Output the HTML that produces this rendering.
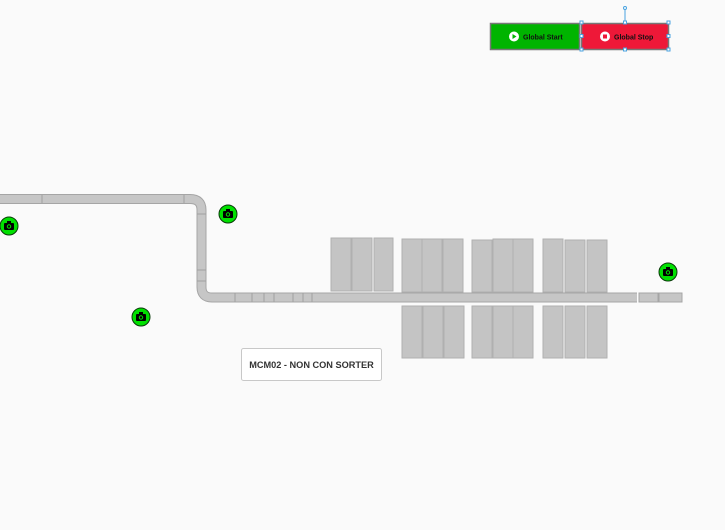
<!DOCTYPE html>
<html><head><style>
html,body{margin:0;padding:0;background:#fafafa;width:725px;height:530px;overflow:hidden;font-family:"Liberation Sans",sans-serif}
</style></head><body>
<svg width="725" height="530" xmlns="http://www.w3.org/2000/svg" style="position:absolute;left:0;top:0">
<rect width="725" height="530" fill="#fafafa"/>
<path d="M0 199 H190 Q201.5 199 201.5 210 V287 Q201.5 297.5 212 297.5 H637" fill="none" stroke="#a5a5a5" stroke-width="10"/>
<path d="M0 199 H190 Q201.5 199 201.5 210 V287 Q201.5 297.5 212 297.5 H637" fill="none" stroke="#c6c6c6" stroke-width="8"/>
<g stroke="#a0a0a0" stroke-width="1">
<line x1="42" y1="195" x2="42" y2="203"/><line x1="184" y1="195" x2="184" y2="203"/>
<line x1="197" y1="214" x2="206" y2="214"/><line x1="197" y1="270" x2="206" y2="270"/><line x1="197" y1="281" x2="206" y2="281"/>
<line x1="235" y1="293" x2="235" y2="302"/><line x1="252" y1="293" x2="252" y2="302"/><line x1="264" y1="293" x2="264" y2="302"/><line x1="274" y1="293" x2="274" y2="302"/><line x1="293" y1="293" x2="293" y2="302"/><line x1="303" y1="293" x2="303" y2="302"/><line x1="312" y1="293" x2="312" y2="302"/>
</g>
<rect x="639" y="293" width="19" height="9" fill="#c6c6c6" stroke="#a5a5a5"/>
<rect x="659" y="293" width="23" height="9" fill="#c6c6c6" stroke="#a5a5a5"/>
<g fill="#c4c4c4" stroke="#b0b0b0" stroke-width="1">
<rect x="331" y="238" width="20" height="53"/><rect x="352" y="238" width="20" height="53"/><rect x="374" y="238" width="19" height="53"/>
<rect x="402" y="239" width="20" height="53"/><rect x="422" y="239" width="20" height="53"/><rect x="443" y="239" width="20" height="53"/>
<rect x="472" y="240" width="20" height="52"/><rect x="493" y="239" width="20" height="53"/><rect x="513" y="239" width="20" height="53"/>
<rect x="543" y="239" width="20" height="53"/><rect x="565" y="240" width="20" height="52"/><rect x="587" y="240" width="20" height="52"/>
<rect x="402" y="306" width="20" height="52"/><rect x="423" y="306" width="20" height="52"/><rect x="444" y="306" width="20" height="52"/>
<rect x="472" y="306" width="20" height="52"/><rect x="493" y="306" width="20" height="52"/><rect x="513" y="306" width="20" height="52"/>
<rect x="543" y="306" width="20" height="52"/><rect x="565" y="306" width="20" height="52"/><rect x="587" y="306" width="20" height="52"/>
</g>
<defs><g id="cam"><circle r="9" fill="#00e000" stroke="#0a3a0a" stroke-width="1"/><rect x="-5" y="-3" width="10" height="7" rx="1" fill="#000"/><rect x="-2" y="-5" width="4" height="3" fill="#000"/><circle cx="0" cy="0.5" r="2.2" fill="#00e000"/><circle cx="0" cy="0.5" r="1.2" fill="#000"/></g></defs>
<use href="#cam" x="9" y="226"/><use href="#cam" x="228" y="214"/><use href="#cam" x="141" y="317"/><use href="#cam" x="668" y="272"/>
<rect x="490.5" y="23.5" width="89" height="26" fill="#00b400" stroke="#777" stroke-width="1.5"/>
<circle cx="514" cy="36.5" r="5" fill="#fff"/><path d="M512.5 34 L516.5 36.5 L512.5 39 Z" fill="#00b400"/>
<text x="523" y="39.5" font-size="7" font-weight="bold" fill="#111">Global Start</text>
<rect x="581.5" y="23.5" width="87" height="26" fill="#ee1838" stroke="#777" stroke-width="1.5"/>
<circle cx="605" cy="36.5" r="5" fill="#fff"/><rect x="603" y="34.5" width="4" height="4" fill="#ee1838"/>
<text x="614" y="39.5" font-size="7" font-weight="bold" fill="#111">Global Stop</text>
<g stroke="#4aa3e0" fill="#fff" stroke-width="1">
<line x1="625" y1="8" x2="625" y2="23"/><circle cx="625" cy="8" r="1.5"/>
<rect x="580" y="21" width="3" height="3"/><rect x="623.5" y="21" width="3" height="3"/><rect x="667" y="21" width="3" height="3"/>
<rect x="580" y="34.5" width="3" height="3"/><rect x="667" y="34.5" width="3" height="3"/>
<rect x="580" y="48" width="3" height="3"/><rect x="623.5" y="48" width="3" height="3"/><rect x="667" y="48" width="3" height="3"/>
</g>
<rect x="241.5" y="348.5" width="140" height="32" rx="2" fill="#fff" stroke="#c8c8c8"/>
<text x="311.5" y="368" font-size="9.2" font-weight="bold" fill="#333" text-anchor="middle">MCM02 - NON CON SORTER</text>
</svg>
</body></html>
